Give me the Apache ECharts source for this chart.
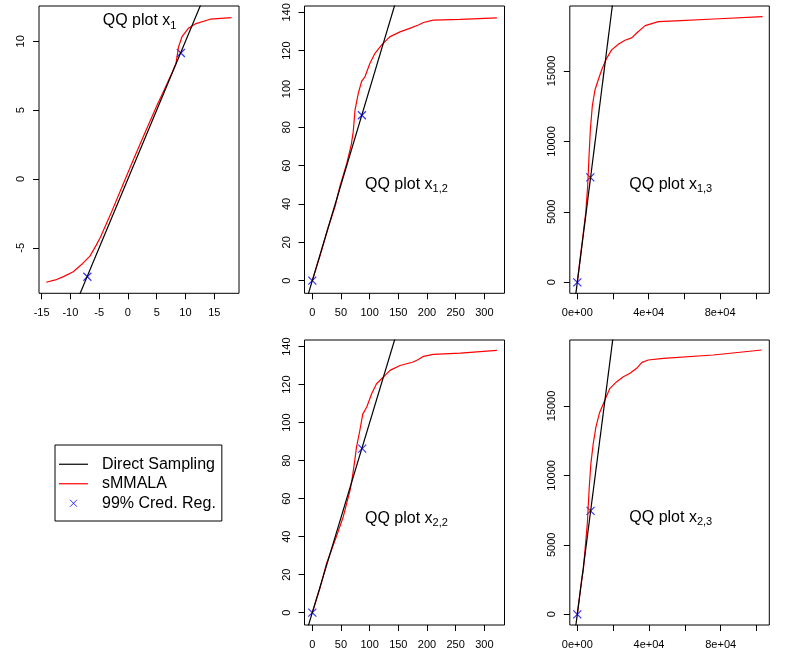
<!DOCTYPE html>
<html>
<head>
<meta charset="utf-8">
<script src="https://cdn.jsdelivr.net/npm/echarts@6/dist/echarts.min.js"></script>
<style>
  html, body { margin: 0; padding: 0; background: #fff; }
  #container { width: 796px; height: 665px; }
</style>
</head>
<body>
<div id="container"></div>
<script>
let dom = document.getElementById("container");
let myChart = echarts.init(dom);

const font = "'Liberation Sans', Arial, Helvetica, sans-serif";

// sMMALA quantiles vs direct sampling quantiles, one array per panel
let smmala1 = [[-14.2, -7.5], [-12.6, -7.33], [-11.2, -7.09], [-9.5, -6.73], [-7.9, -6.15], [-6.6, -5.6],
  [-5.5, -4.8], [-4.8, -4.25], [-3, -2.55], [-1, -0.55], [1, 1.45], [3, 3.4], [5, 5.3], [6.5, 6.65],
  [7.6, 7.65], [8.35, 8.4], [8.8, 9.6], [9.4, 10.33], [10.5, 10.94], [11.7, 11.26], [14.3, 11.6], [18.0, 11.72]];
let smmala12 = [[0, 0], [13, 12.5], [28, 28], [40, 39], [48, 49], [60, 61], [68, 71], [71.5, 78], [74.5, 89],
  [80, 97.5], [86, 104], [92, 106.5], [100, 113], [109, 118.5], [121, 123], [135, 127.2], [153, 129.8],
  [170, 131.6], [185, 133.4], [194, 134.7], [211, 135.9], [258, 136.3], [322, 137.1]];
let smmala13 = [[0, 0], [2400, 2500], [4700, 4900], [5800, 6800], [6550, 8900], [7300, 10800], [8400, 12500],
  [9900, 13650], [11800, 14400], [14000, 15200], [16450, 15900], [19250, 16500], [23000, 16900],
  [26700, 17180], [30500, 17350], [33300, 17700], [38000, 18220], [45400, 18500], [55000, 18560],
  [76600, 18690], [103800, 18860]];
let smmala22 = [[0, 0], [13, 12.5], [25, 26], [42, 40], [54, 50.5], [66, 64.5], [70, 71.5], [74, 80], [77, 87],
  [83, 96], [88, 104.5], [95, 108.2], [103.5, 115.2], [112, 120.5], [124, 124], [135.5, 127.5], [153, 130.1],
  [176, 131.9], [185, 133.2], [194, 134.9], [211, 135.9], [258, 136.6], [322, 138]];
let smmala23 = [[0, 0], [2400, 2450], [3350, 3200], [5600, 6550], [6700, 9200], [7600, 10870], [8900, 12300],
  [10400, 13500], [12300, 14470], [15400, 15430], [18200, 16270], [22000, 16750], [25700, 17100],
  [29400, 17350], [33100, 17710], [35900, 18120], [39600, 18310], [48000, 18430], [75900, 18670],
  [102900, 19030]];

// 99% credible region bounds
let cred1 = [[-7.05, -7.1], [9.2, 9.15]];
let cred12 = [[0, 0], [86.5, 86.3]];
let cred13 = [[0, 0], [7300, 7450]];
let cred22 = [[0, 0], [87, 86.3]];
let cred23 = [[0, 0], [7400, 7450]];

// direct sampling reference line y = x
let direct1 = [[-20, -20], [25, 25]];
let direct2 = [[-20, -20], [400, 400]];
let direct3 = [[-5000, -5000], [120000, 120000]];

// ticks
let xTicks1 = [-15, -10, -5, 0, 5, 10, 15];
let yTicks1 = [-5, 0, 5, 10];
let xTicks2 = [0, 50, 100, 150, 200, 250, 300];
let yTicks2 = [0, 20, 40, 60, 80, 100, 120, 140];
let xTicks3 = [0, 20000, 40000, 60000, 80000, 100000];
let xLabels3 = [0, 40000, 80000];
let yTicks3 = [0, 5000, 10000, 15000];

let subs = ['1', '1,2', '1,3', '2,2', '2,3'];

// R style scientific label: 4e+04
function sci(v) {
  let s = Number(v).toExponential().split('e');
  let e = parseInt(s[1], 10);
  return s[0] + 'e' + (e < 0 ? '-' : '+') + (Math.abs(e) < 10 ? '0' : '') + Math.abs(e);
}

let panels = [
  {grid: [39, 6, 200, 287.3], x: [-15.45, 19.3], y: [-8.3, 12.56], xt: xTicks1, yt: yTicks1,
    red: smmala1, cred: cred1, ref: direct1, tx: 102.7, ty: 19.5},
  {grid: [304.5, 6, 200, 287.3], x: [-13.6, 335.2], y: [-6.6, 143.3], xt: xTicks2, yt: yTicks2,
    red: smmala12, cred: cred12, ref: direct2, tx: 365, ty: 183},
  {grid: [569.8, 6, 199.5, 287.3], x: [-4200, 107560], y: [-780, 19614], xt: xTicks3, xl: xLabels3, yt: yTicks3,
    red: smmala13, cred: cred13, ref: direct3, tx: 629.3, ty: 183, fmt: sci},
  {grid: [304.5, 340, 200, 285], x: [-13.6, 335.2], y: [-6.5, 143.5], xt: xTicks2, yt: yTicks2,
    red: smmala22, cred: cred22, ref: direct2, tx: 365, ty: 516.7},
  {grid: [569.8, 340, 199.5, 285], x: [-4184, 107113], y: [-770, 19750], xt: xTicks3, xl: xLabels3, yt: yTicks3,
    red: smmala23, cred: cred23, ref: direct3, tx: 629.3, ty: 515.7, fmt: sci}
];

let crossPath = 'path://M0,0L10,10M10,0L0,10';
let lineIcon = 'path://M0,0L29,0L29,1.2L0,1.2Z';

function makeAxis(i, range, ticks, labels, isY, fmt) {
  return {
    type: 'value', gridIndex: i, min: range[0], max: range[1],
    position: isY ? 'left' : 'bottom',
    axisLine: {show: false, onZero: false},
    splitLine: {show: false},
    axisTick: {show: true, inside: false, length: 6, customValues: ticks, lineStyle: {color: '#000', width: 1}},
    axisLabel: {
      inside: false,
      customValues: labels || ticks, color: '#000', fontSize: 11, fontFamily: font,
      margin: isY ? 12.5 : 14.5, rotate: isY ? 90 : 0,
      formatter: fmt || function (v) { return String(v); }
    }
  };
}

let option = {
  animation: false,
  backgroundColor: '#fff',
  title: panels.map(function (p, i) {
    return {
      text: '{m|QQ plot x}{s|' + subs[i] + '}',
      left: p.tx, top: p.ty - 8.5, padding: 0,
      textStyle: {
        fontWeight: 'normal',
        rich: {
          m: {fontSize: 16, fontFamily: font, color: '#000', lineHeight: 20},
          s: {fontSize: 11, fontFamily: font, color: '#000', lineHeight: 12, verticalAlign: 'bottom'}
        }
      }
    };
  }),
  grid: panels.map(function (p) {
    return {left: p.grid[0], top: p.grid[1], width: p.grid[2], height: p.grid[3],
      show: true, borderColor: '#000', borderWidth: 1, backgroundColor: 'transparent',
      containLabel: false, outerBoundsMode: 'none'};
  }),
  xAxis: panels.map(function (p, i) { return makeAxis(i, p.x, p.xt, p.xl, false, p.fmt); }),
  yAxis: panels.map(function (p, i) { return makeAxis(i, p.y, p.yt, null, true); }),
  legend: {
    orient: 'vertical', left: 55, top: 445,
    itemWidth: 29, itemHeight: 14, itemGap: 0,
    padding: [9.5, 6, 8, 4],
    borderColor: '#000', borderWidth: 1,
    selectedMode: false,
    textStyle: {fontSize: 16, fontFamily: font, color: '#000', lineHeight: 19.5, padding: [0, 0, 0, 9]},
    data: [
      {name: 'Direct Sampling', icon: lineIcon, itemStyle: {color: '#000', borderWidth: 0}},
      {name: 'sMMALA', icon: lineIcon, itemStyle: {color: 'red', borderWidth: 0}},
      {name: '99% Cred. Reg.', icon: 'path://M0,0M14,14M3.5,3.5L10.5,10.5M10.5,3.5L3.5,10.5',
        itemStyle: {color: 'transparent', borderColor: 'blue', borderWidth: 1}}
    ]
  },
  series: []
};

panels.forEach(function (p, i) {
  option.series.push({
    type: 'line', name: 'sMMALA', xAxisIndex: i, yAxisIndex: i, data: p.red,
    symbol: 'none', lineStyle: {color: 'red', width: 1.2}, itemStyle: {color: 'red'}
  });
  option.series.push({
    type: 'line', name: 'Direct Sampling', xAxisIndex: i, yAxisIndex: i, data: p.ref,
    symbol: 'none', lineStyle: {color: '#000', width: 1.2}, itemStyle: {color: '#000'}
  });
  option.series.push({
    type: 'scatter', name: '99% Cred. Reg.', xAxisIndex: i, yAxisIndex: i, data: p.cred,
    symbol: crossPath, symbolSize: 8,
    itemStyle: {color: 'transparent', borderColor: 'blue', borderWidth: 1.2}
  });
});

myChart.setOption(option);
</script>
</body>
</html>
